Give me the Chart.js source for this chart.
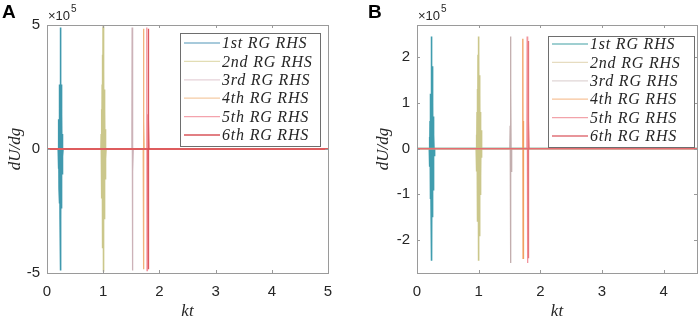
<!DOCTYPE html>
<html>
<head>
<meta charset="utf-8">
<script src="https://cdn.jsdelivr.net/npm/chart.js@4/dist/chart.umd.min.js"></script>
<style>
  body { margin: 0; background: #fff; width: 699px; height: 320px; position: relative; overflow: hidden; }
  canvas { position: absolute; top: 0; }
  #ca { left: 0; }
  #cb { left: 350px; }
</style>
</head>
<body>
<canvas id="ca" width="350" height="320"></canvas>
<canvas id="cb" width="349" height="320"></canvas>
<script>
// dU/dg in units of 1e5, kt on the x axis
const seriesNames = ['1st RG RHS', '2nd RG RHS', '3rd RG RHS', '4th RG RHS', '5th RG RHS', '6th RG RHS'];

// panel A
const ktA1 = [0, 0.200, 0.204, 0.208, 0.212, 0.215, 0.218, 0.221, 0.224, 0.227, 0.230, 0.233, 0.236, 0.239, 0.242, 0.245, 0.248, 0.251, 0.254, 0.257, 0.260, 0.264, 0.268, 0.273, 0.278, 0.285, 5];
const uA1  = [0, 0, 0.5, -0.8, 1.2, -1.6, 2.0, -2.2, 2.4, -2.0, 2.6, -2.8, 3.4, 4.9, -4.9, 3.6, -3.0, 2.6, -2.4, 2.0, -1.8, 1.4, -1.0, 0.6, -0.3, 0, 0];
const ktA2 = [0, 0.960, 0.965, 0.970, 0.974, 0.978, 0.982, 0.986, 0.990, 0.994, 0.998, 1.001, 1.004, 1.008, 1.012, 1.016, 1.020, 1.024, 1.028, 1.033, 1.038, 1.044, 1.050, 5];
const uA2  = [0, 0, 0.6, -1.0, 1.6, -2.0, 2.6, -3.2, 3.8, -4.0, 4.95, -4.95, 4.2, -3.8, 3.2, -2.8, 2.4, -2.0, 1.6, -1.2, 0.8, -0.4, 0, 0];
const ktA3 = [0, 1.505, 1.511, 1.515, 1.519, 1.523, 1.528, 1.535, 5];
const uA3  = [0, 0, 0.9, 4.9, -4.9, 2.2, -0.9, 0, 0];
const ktA4 = [0, 1.712, 1.716, 1.720, 1.724, 1.729, 5];
const uA4  = [0, 0, 4.85, -4.85, 1.1, 0, 0];
const ktA5 = [0, 1.772, 1.776, 1.780, 1.784, 1.789, 5];
const uA5  = [0, 0, 4.9, -4.9, 1.4, 0, 0];
const ktA6 = [0, 1.798, 1.802, 1.806, 1.810, 1.815, 5];
const uA6  = [0, 0, 4.85, -4.85, 1.2, 0, 0];

// panel B
const ktB1 = [0, 0.200, 0.204, 0.208, 0.212, 0.215, 0.218, 0.221, 0.224, 0.227, 0.230, 0.233, 0.236, 0.239, 0.242, 0.245, 0.248, 0.251, 0.254, 0.257, 0.260, 0.264, 0.268, 0.273, 0.278, 0.285, 4.54];
const uB1  = [0, 0, 0.25, -0.4, 0.6, -1.1, 1.1, -1.1, 1.2, -1.0, 1.3, -1.4, 1.7, 2.45, -2.45, 1.8, -1.5, 1.3, -1.2, 1.0, -0.9, 0.7, -0.5, 0.3, -0.15, 0, 0];
const ktB2 = [0, 0.960, 0.965, 0.970, 0.974, 0.978, 0.982, 0.986, 0.990, 0.994, 0.998, 1.001, 1.004, 1.008, 1.012, 1.016, 1.020, 1.024, 1.028, 1.033, 1.038, 1.044, 1.050, 4.54];
const uB2  = [0, 0, 0.3, -0.5, 0.8, -1.0, 1.3, -1.6, 2.05, -2.0, 2.45, -2.45, 2.1, -1.9, 1.6, -1.4, 1.2, -1.0, 0.8, -0.6, 0.4, -0.2, 0, 0];
const ktB3 = [0, 1.505, 1.511, 1.515, 1.519, 1.523, 1.528, 1.535, 4.54];
const uB3  = [0, 0, 0.5, 2.45, -2.5, 1.3, -0.5, 0, 0];
const ktB4 = [0, 1.712, 1.716, 1.720, 1.724, 1.729, 4.54];
const uB4  = [0, 0, 2.4, -2.4, 0.6, 0, 0];
const ktB5 = [0, 1.782, 1.786, 1.790, 1.794, 1.799, 4.54];
const uB5  = [0, 0, 2.45, -2.5, 0.7, 0, 0];
const ktB6 = [0, 1.800, 1.804, 1.808, 1.812, 1.817, 4.54];
const uB6  = [0, 0, 2.35, -2.4, 0.6, 0, 0];

const xTicksA = [0, 1, 2, 3, 4, 5];
const yTicksA = [-5, 0, 5];
const xTicksB = [0, 1, 2, 3, 4];
const yTicksB = [-2, -1, 0, 1, 2];

const lineColorsA = ['rgba(30,135,160,0.85)', 'rgba(190,185,110,0.8)', 'rgba(195,165,172,0.85)',
                     'rgba(240,165,100,0.85)', 'rgba(240,130,140,0.85)', 'rgba(218,70,76,0.9)'];
const lineColorsB = ['rgba(30,140,160,0.85)', 'rgba(190,185,110,0.8)', 'rgba(185,160,160,0.85)',
                     'rgba(240,150,80,0.9)', 'rgba(240,130,140,0.85)', 'rgba(228,105,110,0.9)'];
const legendColorsA = ['#8ab9cf', '#e2ddb4', '#e6d2d8', '#f5cba4', '#f4a3ad', '#d8545a'];
const legendColorsB = ['#7fbfc2', '#e6dcc0', '#e0d6d6', '#f7c39a', '#f2a3aa', '#e07278'];

const FRAME = '#9a9a9a';
const TXT = '#262626';

// box, inward ticks, panel letter, exponent, legend
const decorations = {
  id: 'decorations',
  afterDraw(chart, args, o) {
    const ctx = chart.ctx;
    const a = chart.chartArea;
    const xs = chart.scales.x, ys = chart.scales.y;
    ctx.save();
    ctx.strokeStyle = FRAME;
    ctx.lineWidth = 1;
    ctx.strokeRect(Math.round(a.left) + 0.5, Math.round(a.top) + 0.5,
                   Math.round(a.right - a.left), Math.round(a.bottom - a.top));
    ctx.beginPath();
    xs.ticks.forEach(t => {
      const px = Math.round(xs.getPixelForValue(t.value)) + 0.5;
      ctx.moveTo(px, a.bottom); ctx.lineTo(px, a.bottom - 3);
      ctx.moveTo(px, a.top); ctx.lineTo(px, a.top + 3);
    });
    ys.ticks.forEach(t => {
      const py = Math.round(ys.getPixelForValue(t.value)) + 0.5;
      ctx.moveTo(a.left, py); ctx.lineTo(a.left + 3, py);
      ctx.moveTo(a.right, py); ctx.lineTo(a.right - 3, py);
    });
    ctx.stroke();

    // panel letter
    ctx.fillStyle = '#000';
    ctx.font = 'bold 19px "Liberation Sans", Arial, sans-serif';
    ctx.textBaseline = 'alphabetic';
    ctx.textAlign = 'left';
    ctx.fillText(o.letter, o.letterX, 18);

    // x10^5
    ctx.fillStyle = TXT;
    ctx.font = '13px "Liberation Sans", Arial, sans-serif';
    ctx.fillText('\u00d710', a.left + 1, 20);
    const w = ctx.measureText('\u00d710').width;
    ctx.font = '10px "Liberation Sans", Arial, sans-serif';
    ctx.fillText('5', a.left + 1 + w + 1, 12);

    // legend
    const L = o.legend;
    ctx.fillStyle = '#fff';
    ctx.fillRect(L.x, L.y, L.w, L.h);
    ctx.strokeStyle = '#6e6e6e';
    ctx.strokeRect(L.x + 0.5, L.y + 0.5, L.w, L.h);
    ctx.font = 'italic 16px "Liberation Serif", "DejaVu Serif", serif';
    ctx.letterSpacing = '0.8px';
    ctx.textBaseline = 'middle';
    chart.data.datasets.forEach((ds, i) => {
      const cy = L.y + L.first + i * L.step;
      ctx.strokeStyle = o.legendColors[i];
      ctx.lineWidth = 1.3;
      ctx.beginPath();
      ctx.moveTo(L.x + 4, cy); ctx.lineTo(L.x + 4 + L.line, cy);
      ctx.stroke();
      ctx.fillStyle = TXT;
      ctx.fillText(ds.label, L.x + 6 + L.line, cy + 1);
    });
    ctx.restore();
  }
};

function buildDatasets(kts, us, colors) {
  return kts.map((kt, i) => ({
    label: seriesNames[i],
    data: kt.map((x, j) => ({ x, y: us[i][j] })),
    borderColor: colors[i],
    borderWidth: i < 2 ? 1.6 : 1.3,
    pointRadius: 0,
    tension: 0,
    fill: false,
    order: 6 - i
  }));
}

function makePanel(id, p) {
  return new Chart(document.getElementById(id), {
    type: 'line',
    data: { datasets: buildDatasets(p.kts, p.us, p.colors) },
    options: {
      responsive: false,
      animation: false,
      layout: { padding: { top: 25, right: p.padRight, left: 0, bottom: 0 } },
      plugins: {
        legend: { display: false },
        tooltip: { enabled: false },
        decorations: { letter: p.letter, letterX: p.letterX, legend: p.legend, legendColors: p.legendColors }
      },
      scales: {
        x: {
          type: 'linear',
          min: 0, max: p.xMax,
          afterBuildTicks: ax => { ax.ticks = p.xTicks.map(v => ({ value: v })); },
          afterFit: ax => { ax.height = 47; },
          grid: { display: false, drawTicks: false },
          border: { display: false },
          ticks: { color: TXT, padding: 10, maxRotation: 0, font: { family: '"Liberation Sans", Arial, sans-serif', size: 15 } },
          title: { display: true, text: 'kt', color: TXT, padding: 0,
                   font: { family: '"Liberation Serif", "DejaVu Serif", serif', style: 'italic', size: 17, lineHeight: 1 } }
        },
        y: {
          min: p.yMin, max: p.yMax,
          afterBuildTicks: ax => { ax.ticks = p.yTicks.map(v => ({ value: v })); },
          afterFit: ax => { ax.width = p.yWidth; },
          grid: { display: false, drawTicks: false },
          border: { display: false },
          ticks: { color: TXT, padding: 7, font: { family: '"Liberation Sans", Arial, sans-serif', size: 15 } },
          title: { display: true, text: 'dU/dg', color: TXT, padding: { top: p.titlePad, bottom: 0 },
                   font: { family: '"Liberation Serif", "DejaVu Serif", serif', style: 'italic', size: 17, lineHeight: 1 } }
        }
      }
    },
    plugins: [decorations]
  });
}

makePanel('ca', {
  kts: [ktA1, ktA2, ktA3, ktA4, ktA5, ktA6],
  us: [uA1, uA2, uA3, uA4, uA5, uA6],
  colors: lineColorsA, legendColors: legendColorsA,
  xMax: 5, yMin: -5, yMax: 5, xTicks: xTicksA, yTicks: yTicksA,
  yWidth: 47, padRight: 22, titlePad: 7,
  letter: 'A', letterX: 2,
  legend: { x: 180, y: 33, w: 140, h: 113, first: 10, step: 18.4, line: 36 }
});

makePanel('cb', {
  kts: [ktB1, ktB2, ktB3, ktB4, ktB5, ktB6],
  us: [uB1, uB2, uB3, uB4, uB5, uB6],
  colors: lineColorsB, legendColors: legendColorsB,
  xMax: 4.54, yMin: -2.72, yMax: 2.70, xTicks: xTicksB, yTicks: yTicksB,
  yWidth: 67, padRight: 2, titlePad: 25,
  letter: 'B', letterX: 18,
  legend: { x: 198, y: 36, w: 146, h: 111, first: 8, step: 18.4, line: 36 }
});
</script>
</body>
</html>
